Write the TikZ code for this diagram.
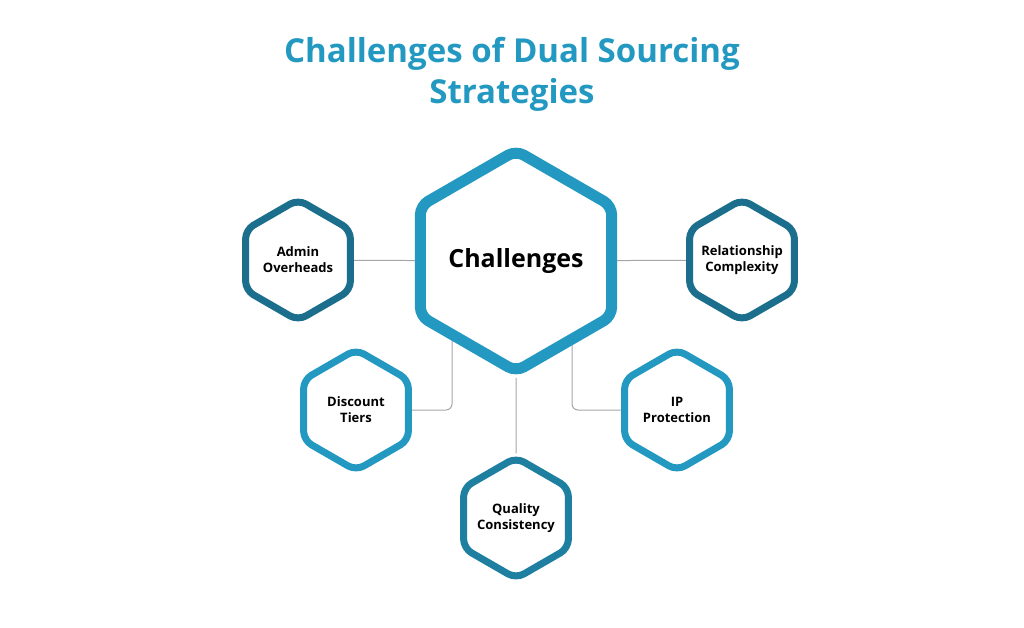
\documentclass[tikz,border=0pt]{standalone}
\usepackage{fontspec}
\setmainfont{Open Sans}
\usetikzlibrary{shapes.geometric}
\usetikzlibrary{backgrounds}
\definecolor{tealdark}{HTML}{1B6E8C}
\definecolor{teallight}{HTML}{2399C1}
\tikzstyle{hexa}=[
  regular polygon, regular polygon sides=6, shape border rotate=30,
  fill=white, rounded corners=9pt, align=center, inner sep=0pt
]
\tikzstyle{challenge}=[hexa, minimum size=121pt, line width=7pt, inner sep=-20pt,
  font=\fontsize{13}{16}\selectfont\bfseries]
\tikzstyle{hub}=[hexa, minimum size=212pt, line width=11pt, draw=teallight,
  font=\fontsize{25}{29}\selectfont\bfseries]
\tikzstyle{link}=[draw=gray!70, line width=1pt, rounded corners=6pt]
\begin{document}
\begin{tikzpicture}[x=1pt,y=1pt]
    \useasboundingbox (0,0) rectangle (1024,-627);
    \node[text=teallight, font=\fontsize{33}{41}\selectfont\bfseries, align=center]
      (title) at (512,-74) {Challenges of Dual Sourcing\\Strategies};

    \node[hub] (centre) at (516,-261) {Challenges};
    \node[challenge, draw=tealdark] (admin) at (298,-260) {Admin\\Overheads};
    \node[challenge, draw=tealdark] (relation) at (742,-260) {Relationship\\Complexity};
    \node[challenge, draw=teallight] (discount) at (356,-410) {Discount\\Tiers};
    \node[challenge, draw=teallight] (ip) at (677,-410) {IP\\Protection};
    \node[challenge, draw=tealdark!60!teallight] (quality) at (516,-518) {Quality\\Consistency};

    \begin{pgfonlayer}{background}
      \draw[link] (admin) -- (centre);
      \draw[link] (relation) -- (centre);
      \draw[link] (quality) -- (centre);
      \draw[link] (discount.center) -| ([xshift=-64pt]centre.center);
      \draw[link] (ip.center) -| ([xshift=56pt]centre.center);
    \end{pgfonlayer}
\end{tikzpicture}
\end{document}
